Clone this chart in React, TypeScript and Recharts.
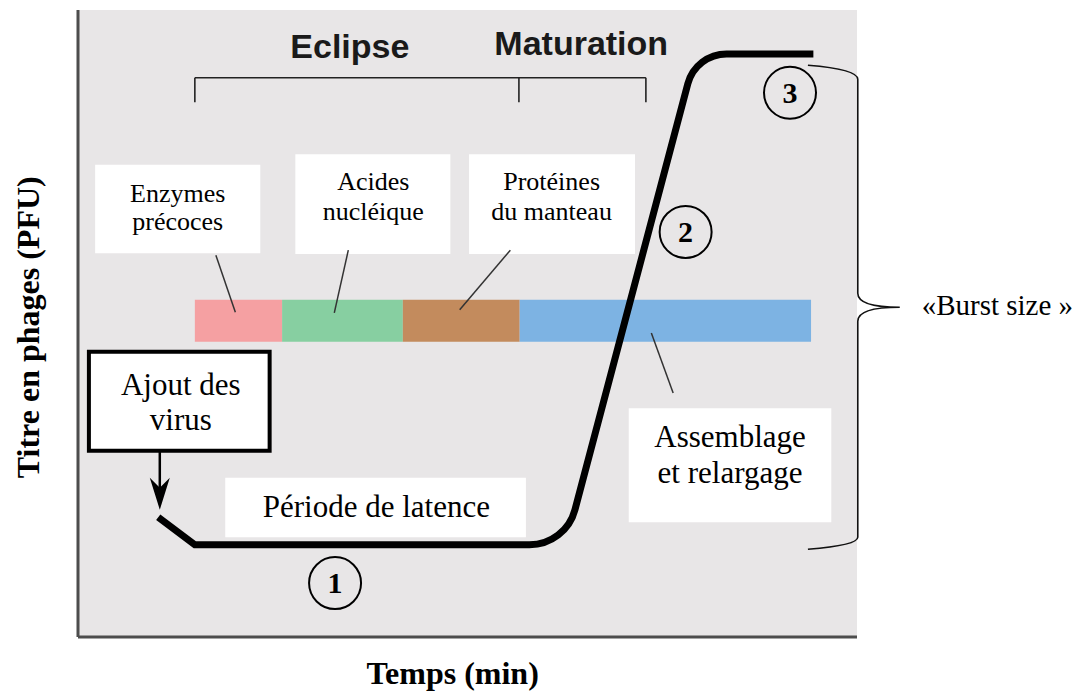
import React from "react";
import {
  LineChart,
  Line,
  XAxis,
  YAxis,
  CartesianGrid,
  ReferenceArea,
  ReferenceLine,
  ReferenceDot,
} from "recharts";

// Courbe de croissance en une étape (one-step growth) — unités arbitraires 0..100
const TEMPS = [10.3, 15.0, 62.6, 79.3, 94.4];
const TITRE = [19.1, 14.7, 14.7, 93.0, 93.0];

// étapes de la barre colorée
const PHASES = ["Enzymes précoces", "Acides nucléique", "Protéines du manteau", "Assemblage et relargage"];
const PHASE_DEBUT = [15.0, 26.2, 41.7, 56.7];
const PHASE_FIN = [26.2, 41.7, 56.7, 94.1];
const BARRE_TITRE = [47.1, 53.8];

// traits de rappel (étiquette -> barre)
const RAPPEL_DE = [[17.7, 60.9], [34.7, 61.7], [55.5, 61.7], [73.6, 48.5]];
const RAPPEL_A = [[20.2, 51.8], [32.9, 51.7], [49.0, 52.2], [76.4, 38.9]];

// périodes (accolade du haut)
const PERIODES = ["Eclipse", "Maturation"];
const PERIODE_DEBUT = [15.0, 56.6];
const PERIODE_FIN = [56.6, 72.9];

// étapes numérotées
const ETAPES = ["1", "2", "3"];
const ETAPE_T = [33.0, 78.0, 91.4];
const ETAPE_Y = [8.6, 64.6, 86.8];

const curveData = TEMPS.map((t, i) => ({ t, titre: TITRE[i] }));

const SERIF = "'Liberation Serif', 'Times New Roman', serif";
const SANS = "'Liberation Sans', Arial, sans-serif";
const PHASE_COLORS = ["#f5a0a2", "#87cfa1", "#c38b5d", "#7db3e3"];

// cadres blancs : [x1, x2, y1, y2], texte, point d'ancrage
const boxes = [
  { area: [2.2, 23.4, 61.2, 75.3], lines: ["Enzymes", "précoces"], at: [12.8, 69.4], size: 26, gap: 28 },
  { area: [27.9, 47.8, 61.1, 77.0], lines: ["Acides", "nucléique"], at: [37.9, 71.3], size: 26, gap: 30 },
  { area: [50.2, 71.5, 61.1, 77.0], lines: ["Protéines", "du manteau"], at: [60.8, 71.3], size: 26, gap: 30 },
  { area: [18.9, 57.5, 15.9, 25.4], lines: ["Période de latence"], at: [38.3, 19.1], size: 31, gap: 0 },
  { area: [70.7, 96.7, 18.3, 36.5], lines: ["Assemblage", "et relargage"], at: [83.7, 30.3], size: 31, gap: 36 },
  { area: [1.4, 24.6, 29.7, 45.5], lines: ["Ajout des", "virus"], at: [13.2, 38.6], size: 31, gap: 35, border: true },
];

// coins arrondis (rayon en px par sommet)
const cornerRadius = [0, 0, 47, 40, 0];
function roundedCurve(radii: number[]) {
  return (context: any) => {
    let pts: number[][] = [];
    return {
      areaStart() {},
      areaEnd() {},
      lineStart() {
        pts = [];
      },
      point(x: number, y: number) {
        pts.push([+x, +y]);
      },
      lineEnd() {
        if (!pts.length) return;
        context.moveTo(pts[0][0], pts[0][1]);
        for (let i = 1; i < pts.length - 1; i++) {
          const r = radii[i] || 0;
          if (r > 0) context.arcTo(pts[i][0], pts[i][1], pts[i + 1][0], pts[i + 1][1], r);
          else context.lineTo(pts[i][0], pts[i][1]);
        }
        const last = pts[pts.length - 1];
        context.lineTo(last[0], last[1]);
      },
    };
  };
}

const textShape =
  (lines: string[], o: { size: number; gap?: number; family?: string; weight?: string | number; anchor?: string; rotate?: boolean; fill?: string }) =>
  (p: any) =>
    (
      <text
        x={p.cx}
        y={p.cy}
        textAnchor={o.anchor ?? "middle"}
        fontFamily={o.family ?? SERIF}
        fontSize={o.size}
        fontWeight={o.weight ?? "normal"}
        fill={o.fill ?? "#000"}
        transform={o.rotate ? `rotate(-90 ${p.cx} ${p.cy})` : undefined}
      >
        {lines.map((l, i) => (
          <tspan key={i} x={p.cx} dy={i === 0 ? 0 : o.gap ?? 0}>
            {l}
          </tspan>
        ))}
      </text>
    );

const circleShape = (label: string) => (p: any) => (
  <g>
    <circle cx={p.cx} cy={p.cy} r={26} fill="none" stroke="#000" strokeWidth={2} />
    <text x={p.cx} y={p.cy + 10} textAnchor="middle" fontFamily={SERIF} fontWeight="bold" fontSize={30}>
      {label}
    </text>
  </g>
);

const arrowHead = (p: any) => (
  <path
    d={`M${p.cx},${p.cy} L${p.cx - 10},${p.cy - 32} L${p.cx},${p.cy - 22} L${p.cx + 10},${p.cy - 32} Z`}
    fill="#000"
  />
);

const braceShape = (p: any) => {
  const { x, y, width, height } = p;
  const r = x + width;
  const b = y + height;
  const m = y + height / 2;
  const d = `M${x},${y} Q${r},${y + 4} ${r},${y + 14} L${r},${m - 14} Q${r},${m} ${r + 42},${m} Q${r},${m} ${r},${m + 14} L${r},${b - 12} Q${r},${b - 4} ${x},${b}`;
  return <path d={d} fill="none" stroke="#111" strokeWidth={1.6} />;
};

export default function App() {
  return (
    <div style={{ position: "absolute", left: 0, top: 0 }}>
      <LineChart
        width={1082}
        height={692}
        data={curveData}
        margin={{ top: 10, right: 225, bottom: 0, left: 0 }}
      >
        <CartesianGrid horizontal={false} vertical={false} fill="#e8e6e7" />
        <XAxis
          type="number"
          dataKey="t"
          domain={[0, 100]}
          height={55}
          tick={false}
          tickLine={false}
          axisLine={{ stroke: "#4d4d4d", strokeWidth: 3 }}
        />
        <YAxis
          type="number"
          domain={[0, 100]}
          width={78}
          tick={false}
          tickLine={false}
          axisLine={{ stroke: "#4d4d4d", strokeWidth: 3 }}
        />

        {/* barre des étapes */}
        {PHASES.map((ph, i) => (
          <ReferenceArea
            key={ph}
            x1={PHASE_DEBUT[i]}
            x2={PHASE_FIN[i]}
            y1={BARRE_TITRE[0]}
            y2={BARRE_TITRE[1]}
            fill={PHASE_COLORS[i]}
            fillOpacity={1}
            stroke="none"
            ifOverflow="visible"
          />
        ))}

        {/* cadres blancs */}
        {boxes.map((b, i) => (
          <ReferenceArea
            key={"box" + i}
            x1={b.area[0]}
            x2={b.area[1]}
            y1={b.area[2]}
            y2={b.area[3]}
            fill="#fff"
            fillOpacity={1}
            stroke={b.border ? "#000" : "none"}
            strokeWidth={b.border ? 4 : 0}
            ifOverflow="visible"
          />
        ))}

        {/* accolade "Burst size" */}
        <ReferenceArea x1={93.7} x2={100.1} y1={14.0} y2={91.2} shape={braceShape} ifOverflow="visible" />

        {/* traits de rappel */}
        {RAPPEL_DE.map((d, i) => (
          <ReferenceLine
            key={"rap" + i}
            segment={[
              { x: d[0], y: d[1] },
              { x: RAPPEL_A[i][0], y: RAPPEL_A[i][1] },
            ]}
            stroke="#333"
            strokeWidth={1.5}
            ifOverflow="visible"
          />
        ))}

        {/* accolade Eclipse / Maturation */}
        <ReferenceLine
          segment={[
            { x: PERIODE_DEBUT[0], y: 89.2 },
            { x: PERIODE_FIN[1], y: 89.2 },
          ]}
          stroke="#222"
          strokeWidth={1.6}
          ifOverflow="visible"
        />
        {[PERIODE_DEBUT[0], PERIODE_DEBUT[1], PERIODE_FIN[1]].map((x, i) => (
          <ReferenceLine
            key={"tick" + i}
            segment={[
              { x, y: 89.2 },
              { x, y: 85.3 },
            ]}
            stroke="#222"
            strokeWidth={1.6}
            ifOverflow="visible"
          />
        ))}
        <ReferenceDot x={34.9} y={92.3} r={0} ifOverflow="visible"
          shape={textShape([PERIODES[0]], { size: 34, family: SANS, weight: "bold", fill: "#1a1a1a" })} />
        <ReferenceDot x={64.6} y={92.8} r={0} ifOverflow="visible"
          shape={textShape([PERIODES[1]], { size: 34, family: SANS, weight: "bold", fill: "#1a1a1a" })} />

        {/* flèche "Ajout des virus" */}
        <ReferenceLine
          segment={[
            { x: 10.5, y: 29.5 },
            { x: 10.5, y: 23.0 },
          ]}
          stroke="#000"
          strokeWidth={2.5}
          ifOverflow="visible"
        />
        <ReferenceDot x={10.5} y={20.3} r={0} ifOverflow="visible" shape={arrowHead} />

        {/* textes des cadres */}
        {boxes.map((b, i) => (
          <ReferenceDot
            key={"txt" + i}
            x={b.at[0]}
            y={b.at[1]}
            r={0}
            ifOverflow="visible"
            shape={textShape(b.lines, { size: b.size, gap: b.gap })}
          />
        ))}

        {/* étapes numérotées */}
        {ETAPES.map((e, i) => (
          <ReferenceDot key={"et" + e} x={ETAPE_T[i]} y={ETAPE_Y[i]} r={26} ifOverflow="visible" shape={circleShape(e)} />
        ))}

        <ReferenceDot x={108.3} y={51.4} r={0} ifOverflow="visible"
          shape={textShape(["«Burst size »"], { size: 29, anchor: "start" })} />

        {/* titres des axes */}
        <ReferenceDot x={48.1} y={-7.5} r={0} ifOverflow="visible"
          shape={textShape(["Temps (min)"], { size: 32, weight: "bold" })} />
        <ReferenceDot x={-5.0} y={49.4} r={0} ifOverflow="visible"
          shape={textShape(["Titre en phages (PFU)"], { size: 32, weight: "bold", rotate: true })} />

        <Line
          type={roundedCurve(cornerRadius) as any}
          dataKey="titre"
          stroke="#000"
          strokeWidth={7}
          dot={false}
          activeDot={false}
          isAnimationActive={false}
        />
      </LineChart>
    </div>
  );
}
